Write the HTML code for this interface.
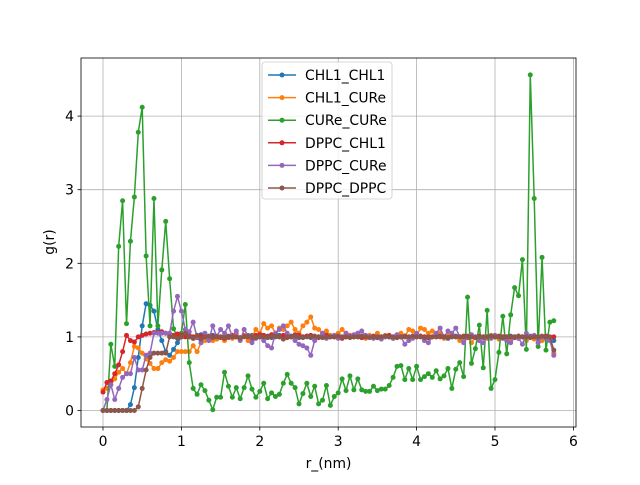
<!DOCTYPE html>
<html><head><meta charset="utf-8"><style>
body{margin:0;background:#fff}
svg text{font-family:"DejaVu Sans","Liberation Sans",sans-serif;font-size:13.9px;fill:#000}
</style></head><body>
<svg id="chart" width="640" height="480" xmlns="http://www.w3.org/2000/svg">
<rect x="0" y="0" width="640" height="480" fill="#fff"/>
<g id="grid"></g>
<g id="series"></g>
<rect x="81" y="58" width="495" height="369" fill="none" stroke="#000" stroke-width="0.8"/>
<g id="ticks"></g>
<text x="328.5" y="468" text-anchor="middle">r_(nm)</text>
<text x="0" y="0" transform="translate(54,242) rotate(-90)" text-anchor="middle">g(r)</text>
<g id="legend"></g>
</svg>
<script>
const xTicks=[0,1,2,3,4,5,6];
const yTicks=[0,1,2,3,4];
const seriesNames=["CHL1_CHL1","CHL1_CURe","CURe_CURe","DPPC_CHL1","DPPC_CURe","DPPC_DPPC"];
const colors=["#1f77b4","#ff7f0e","#2ca02c","#d62728","#9467bd","#8c564b"];
const step=0.05;
const chl1Chl1=[0,0,0,0,0,0,0,0.08,0.31,0.72,1.15,1.45,1.43,1.35,1.1,0.95,0.8,0.75,0.83,0.92,1.0,
1.03,1.0,0.98,1.01,1.03,0.99,1.0,1.02,0.97,1.0,
1.01,0.99,1.02,1.0,0.98,1.01,1.0,1.02,0.99,1.0,
1.0,1.01,0.99,1.0,1.02,0.98,1.0,1.01,1.0,0.99,
1.0,1.01,0.99,1.0,1.0,1.02,0.99,1.0,1.01,1.0,
0.99,1.0,1.01,1.0,1.0,0.99,1.01,1.0,1.0,0.99,
1.0,1.01,1.0,0.99,1.0,1.0,1.01,0.99,1.0,1.0,
1.01,1.0,0.99,1.0,1.0,1.01,1.0,0.98,1.0,1.01,
1.0,0.99,1.0,1.01,1.0,1.0,0.99,1.0,1.01,1.0,
0.99,1.0,1.0,1.01,1.0,0.99,1.0,1.0,1.01,1.0,
0.99,1.0,1.0,0.98,0.95];
const chl1Cure=[0.28,0.3,0.35,0.43,0.52,0.57,0.5,0.65,0.87,0.85,0.78,0.7,0.64,0.57,0.57,0.65,0.69,0.67,0.72,0.8,0.8,
0.8,0.8,0.88,0.8,0.92,0.95,1.0,0.95,0.97,1.0,
0.95,1.0,0.98,1.05,0.97,1.02,0.95,1.0,1.1,1.05,
1.18,1.12,1.15,1.05,1.12,1.1,1.15,1.2,1.1,1.05,
1.15,1.2,1.27,1.12,1.1,1.05,1.08,1.02,1.0,1.05,
1.1,1.05,1.02,1.0,1.05,1.0,0.98,1.02,1.0,1.05,
1.0,1.02,1.0,0.98,1.0,1.05,1.0,1.1,1.08,1.02,
1.12,1.1,1.05,1.08,1.0,1.05,0.98,1.02,1.0,1.0,
0.95,0.98,1.0,0.92,1.0,0.95,1.0,0.98,1.02,1.0,
0.97,1.0,1.0,0.95,1.0,0.98,1.0,0.95,1.0,0.97,
1.0,0.95,1.0,0.97,0.78];
const cureCure=[0,0,0.9,0.6,2.23,2.85,1.18,2.3,2.9,3.78,4.12,2.1,1.15,2.88,1.15,1.91,2.57,1.79,1.11,1.0,1.05,
1.44,0.65,0.3,0.22,0.35,0.27,0.14,0.01,0.18,0.18,
0.52,0.33,0.18,0.31,0.16,0.31,0.47,0.29,0.18,0.26,
0.37,0.16,0.24,0.19,0.22,0.37,0.49,0.37,0.31,0.09,
0.23,0.37,0.19,0.33,0.09,0.14,0.34,0.07,0.19,0.24,
0.43,0.27,0.47,0.28,0.43,0.28,0.26,0.26,0.33,0.27,
0.29,0.29,0.34,0.45,0.6,0.61,0.42,0.57,0.42,0.6,
0.42,0.46,0.5,0.45,0.54,0.43,0.47,0.57,0.3,0.56,
0.65,0.46,1.54,0.64,0.84,1.16,0.58,1.36,0.3,0.42,
0.79,1.28,0.77,1.3,1.67,1.56,2.05,0.83,4.56,2.88,
0.87,2.08,0.82,1.2,1.22];
const dppcChl1=[0.25,0.38,0.4,0.5,0.62,0.8,1.02,0.95,0.93,1.0,1.02,1.04,1.05,1.06,1.06,1.07,1.05,1.03,1.02,1.04,1.02,
1.0,1.02,1.0,0.99,1.01,1.0,0.98,1.0,1.01,0.99,
0.98,1.0,1.02,1.0,0.99,1.01,1.0,0.98,1.02,1.03,
1.02,1.0,1.03,1.04,1.0,1.02,0.99,1.0,1.03,1.02,
1.0,1.01,1.02,1.0,0.99,1.0,1.02,1.0,1.0,1.01,
0.98,1.0,1.01,1.0,1.02,0.99,1.0,1.0,1.01,0.99,
1.0,1.0,1.02,1.0,0.99,1.0,1.01,1.0,1.0,1.0,
1.01,1.0,0.99,1.0,1.02,1.0,1.0,0.99,1.01,1.0,
1.0,1.01,0.99,1.0,1.0,1.01,1.0,1.0,0.99,1.0,
1.01,1.0,1.0,1.0,0.99,1.01,1.0,1.0,1.0,1.01,
1.0,1.0,1.01,1.0,1.0];
const dppcCure=[0,0.15,0.35,0.15,0.3,0.45,0.5,0.5,0.72,0.55,0.55,0.75,0.78,1.05,1.05,1.05,1.05,1.05,1.35,1.55,1.35,
1.1,1.07,1.2,1.0,0.92,1.05,0.95,1.15,1.0,1.1,
1.05,1.15,1.0,1.08,0.95,1.1,1.02,0.92,0.98,1.0,
0.95,0.88,0.85,1.05,1.1,1.15,1.05,1.0,0.95,0.9,
0.88,0.85,0.75,0.95,1.0,1.05,0.98,1.0,1.02,0.98,
1.0,1.05,1.0,1.03,1.05,1.08,1.02,1.0,0.98,1.0,
0.97,1.0,1.0,0.98,1.03,1.0,0.9,0.95,0.98,1.05,
1.0,0.95,0.92,1.0,1.05,1.12,1.0,1.08,1.05,1.12,
1.0,0.92,1.0,1.03,1.0,0.95,0.92,1.0,0.98,1.02,
1.0,0.98,0.95,0.92,1.0,0.98,0.9,1.05,1.0,1.02,
0.92,1.0,0.98,0.95,0.75];
const dppcDppc=[0,0,0,0,0,0,0,0,0,0.05,0.3,0.55,0.72,0.78,0.78,0.78,0.78,1.0,1.0,0.98,1.0,
1.05,1.0,0.98,1.02,0.97,1.0,1.01,0.99,1.0,1.0,
0.99,1.01,1.0,1.0,0.98,1.0,1.01,1.0,0.99,1.0,
1.0,0.99,1.0,1.01,1.0,0.97,1.0,1.0,1.01,1.0,
0.99,1.0,1.0,1.01,1.0,0.99,1.0,1.0,1.0,1.01,
1.0,1.0,0.99,1.0,1.0,1.01,1.0,0.99,1.0,1.0,
1.0,1.01,1.0,1.0,0.99,1.0,1.0,1.0,1.01,1.0,
1.0,0.99,1.0,1.0,1.0,1.01,1.0,0.99,1.0,1.0,
1.0,1.0,1.01,1.0,0.99,1.0,1.0,1.0,1.01,1.0,
1.0,0.99,1.0,1.0,1.0,1.01,1.0,1.0,0.99,1.0,
1.0,1.01,1.0,1.0,0.82];
const allSeries=[chl1Chl1,chl1Cure,cureCure,dppcChl1,dppcCure,dppcDppc];

const NS="http://www.w3.org/2000/svg";
const X0=103,XS=78.4,Y0=410.5,YS=73.6;
function xs(v){return X0+v*XS;}
function ys(v){return Y0-v*YS;}
function mk(tag,attrs,parent){const e=document.createElementNS(NS,tag);for(const k in attrs)e.setAttribute(k,attrs[k]);parent.appendChild(e);return e;}

const grid=document.getElementById('grid'),ticks=document.getElementById('ticks');
xTicks.forEach(t=>{
  const g=mk('line',{x1:xs(t),x2:xs(t),y1:58,y2:427,stroke:'#b0b0b0','stroke-width':0.8},grid);
  
  
  const tk=mk('line',{x1:xs(t),x2:xs(t),y1:427,y2:430.5,stroke:'#000','stroke-width':0.8},ticks);
  
  
  const tx=mk('text',{x:xs(t),y:446,'text-anchor':'middle'},ticks);
  tx.textContent=t;
  
  
});
yTicks.forEach(t=>{
  const g=mk('line',{x1:81,x2:576,y1:ys(t),y2:ys(t),stroke:'#b0b0b0','stroke-width':0.8},grid);
  
  
  const tk=mk('line',{x1:77.5,x2:81,y1:ys(t),y2:ys(t),stroke:'#000','stroke-width':0.8},ticks);
  
  
  const tx=mk('text',{x:74,y:ys(t)+5,'text-anchor':'end'},ticks);
  tx.textContent=t;
  
  
});

const sg=document.getElementById('series');
allSeries.forEach((arr,si)=>{
  const g=mk('g',{},sg);
  
  
  const pts=arr.map((v,i)=>xs(i*step).toFixed(2)+','+ys(v).toFixed(2)).join(' ');
  const pl=mk('polyline',{points:pts,fill:'none',stroke:colors[si],'stroke-width':1.5,'stroke-linejoin':'round'},g);
  
  
  arr.forEach((v,i)=>{
    const c=mk('circle',{cx:xs(i*step),cy:ys(v),r:2.5,fill:colors[si]},g);
    
    
  });
});

const lg=document.getElementById('legend');
const box=mk('rect',{x:262,y:62,width:130,height:137,rx:3,fill:'#fff','fill-opacity':0.8,stroke:'#ccc','stroke-width':0.8},lg);


seriesNames.forEach((n,i)=>{
  const y=75+i*22.6;
  const g=mk('g',{},lg);
  
  
  mk('line',{x1:268,x2:296,y1:y,y2:y,stroke:colors[i],'stroke-width':1.5},g);
  mk('circle',{cx:282,cy:y,r:2.5,fill:colors[i]},g);
  const t=mk('text',{x:305,y:y+5},g);
  t.textContent=n;
  
  
});
</script>
</body></html>
